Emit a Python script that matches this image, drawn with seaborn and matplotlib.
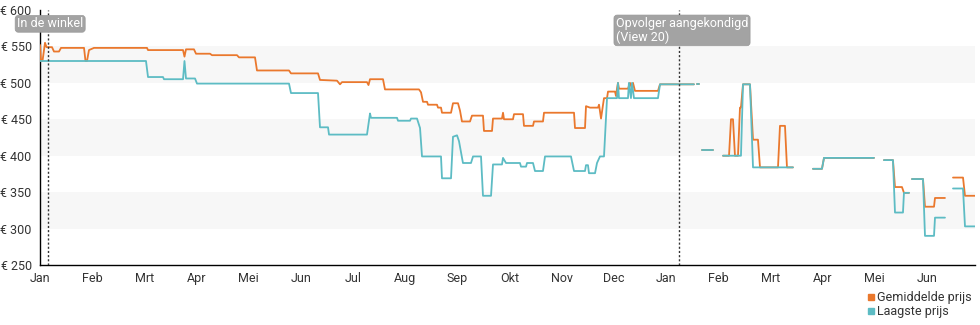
import numpy as np
import pandas as pd
import matplotlib
matplotlib.use("Agg")
import matplotlib.pyplot as plt
from matplotlib.lines import Line2D
import seaborn as sns

N = np.nan
month_labels = ["Jan", "Feb", "Mrt", "Apr", "Mei", "Jun", "Jul", "Aug", "Sep", "Okt", "Nov", "Dec",
                "Jan", "Feb", "Mrt", "Apr", "Mei", "Jun"]
y_ticks = [250, 300, 350, 400, 450, 500, 550, 600]

# x in months since 1 Jan (year 1); NaN = gap
gem_x = [0.000, 0.019, 0.048, 0.096, 0.125, 0.230, 0.268, 0.364, 0.403, 0.844, 0.872, 0.901, 0.939, 1.035,
         2.051, 2.071, 2.742, 2.770, 2.799, 2.952, 2.991, 3.259, 3.298, 3.777, 3.815, 4.122, 4.160, 4.774,
         4.812, 5.330, 5.368, 5.694, 5.752, 5.790, 6.269, 6.298, 6.327, 6.576, 6.614, 7.266, 7.305, 7.343,
         7.420, 7.439, 7.611, 7.631, 7.688, 7.707, 7.880, 7.918, 8.014, 8.052, 8.090, 8.244, 8.282, 8.493,
         8.512, 8.666, 8.685, 8.857, 8.877, 8.896, 9.068, 9.088, 9.260, 9.279, 9.452, 9.471, 9.643, 9.663,
         10.238, 10.257, 10.449, 10.468, 10.545, 10.698, 10.718, 10.756, 10.813, 10.871, 10.890, 11.024,
         11.043, 11.062, 11.081, 11.100, 11.273, 11.311, 11.350, 11.369, 11.407, 11.848, 11.887, 12.538, N,
         12.596, 12.634, N, 12.692, 12.903, N, 13.095, 13.210, 13.248, 13.286, 13.324, 13.382, 13.420, 13.439,
         13.478, 13.612, 13.670, 13.765, 13.804, 14.149, 14.187, 14.283, 14.321, 14.436, N, 14.820, 14.992,
         15.031, 15.989, N, 16.181, 16.353, 16.392, 16.526, 16.564, 16.660, N, 16.718, 16.929, 16.967, 17.140,
         17.159, 17.350, N, 17.504, 17.696, 17.734, 17.926]
gem_y = [552, 530, 530, 555, 549, 549, 543, 543, 548, 548, 530, 530, 545, 548,
         548, 545, 545, 536, 546, 546, 540, 540, 538, 538, 535, 535, 517, 517,
         513, 513, 504, 503, 498, 501, 501, 497, 505, 505, 491, 491, 487, 474,
         474, 470, 470, 466, 466, 459, 459, 472, 472, 462, 447, 447, 455, 455,
         434, 434, 451, 451, 459, 450, 450, 457, 457, 441, 441, 447, 447, 459,
         459, 438, 438, 468, 466, 466, 470, 451, 479, 479, 488, 488,
         482, 492, 500, 492, 492, 500, 492, 500, 489, 489, 498, 498, N,
         498, 498, N, 408, 408, N, 400, 400, 450, 450, 400, 400, 466, 466,
         498, 498, 422, 422, 384, 384, 441, 441, 384, 384, N, 382, 382,
         397, 397, N, 394, 394, 357, 357, 349, 349, N, 368, 368, 330, 330,
         342, 342, N, 370, 370, 345, 345]

laag_x = [0.000, 2.032, 2.071, 2.358, 2.377, 2.742, 2.770, 2.799, 2.972, 3.010, 4.774, 4.812, 5.330, 5.368,
          5.522, 5.541, 6.269, 6.327, 6.346, 6.845, 6.864, 7.094, 7.113, 7.228, 7.286, 7.324, 7.688, 7.707,
          7.880, 7.918, 7.995, 8.033, 8.109, 8.263, 8.302, 8.455, 8.493, 8.647, 8.685, 8.857, 8.877, 8.934,
          9.202, 9.222, 9.318, 9.337, 9.452, 9.490, 9.643, 9.682, 10.180, 10.238, 10.449, 10.468, 10.506,
          10.525, 10.641, 10.679, 10.736, 10.813, 10.871, 11.062, 11.081, 11.100, 11.273, 11.291, 11.330,
          11.350, 11.388, 11.848, 11.887, 12.538, N, 12.596, 12.634, N, 12.692, 12.903, N, 13.095, 13.439,
          13.478, 13.612, 13.670, 14.436, N, 14.820, 14.992, 15.031, 15.989, N, 16.181, 16.353, 16.392,
          16.545, 16.564, 16.660, N, 16.718, 16.929, 16.967, 17.140, 17.159, 17.350, N, 17.504, 17.696,
          17.734, 17.926]
laag_y = [530, 530, 508, 508, 505, 505, 530, 506, 506, 499, 499, 486, 486, 439,
          439, 429, 429, 458, 452, 452, 448, 448, 451, 451, 438, 399, 399, 369,
          369, 426, 428, 420, 390, 390, 399, 399, 345, 345, 388, 388, 397, 390,
          390, 385, 385, 390, 390, 379, 379, 399, 399, 379, 379, 387, 387,
          376, 376, 390, 399, 399, 479, 479, 500, 479, 479, 500, 479,
          500, 479, 479, 498, 498, N, 498, 498, N, 408, 408, N, 400, 400,
          498, 498, 384, 384, N, 382, 382, 397, 397, N, 394, 394, 322,
          322, 349, 349, N, 368, 368, 290, 290, 315, 315, N, 355, 355,
          303, 303]

series_names = ["Gemiddelde prijs", "Laagste prijs"]
colors = {"Gemiddelde prijs": "#ea782d", "Laagste prijs": "#5dbcc4"}


def to_frame(xs, ys, name):
    xs = np.asarray(xs, float)
    ys = np.asarray(ys, float)
    seg = np.cumsum(np.isnan(xs))
    df = pd.DataFrame({"m": xs, "price": ys, "seg": seg, "serie": name})
    df = df.dropna()
    df["unit"] = name + "_" + df["seg"].astype(str)
    return df


df = pd.concat([to_frame(gem_x, gem_y, series_names[0]),
                to_frame(laag_x, laag_y, series_names[1])], ignore_index=True)

sns.set_theme(style="white")
plt.rcParams["font.family"] = ["Roboto", "DejaVu Sans"]

fig = plt.figure(figsize=(9.8, 3.25), dpi=100)
ax = fig.add_axes([40 / 980, 1 - 265 / 325, 935 / 980, 255 / 325])

for lo, hi in [(500, 550), (400, 450), (300, 350)]:
    ax.axhspan(lo, hi, color="#f7f7f7", lw=0, zorder=0)

sns.lineplot(data=df, x="m", y="price", hue="serie", units="unit", estimator=None, sort=False,
             palette=colors, hue_order=series_names, linewidth=1.3, legend=False, ax=ax, zorder=3)

ax.set_xlim(0, 17.926)
ax.set_ylim(250, 600)
ax.set_xticks(range(len(month_labels)))
ax.set_xticklabels(month_labels)
ax.set_yticks(y_ticks)
ax.set_yticklabels([f"€ {v}" for v in y_ticks])
ax.set_xlabel("")
ax.set_ylabel("")
for s in ["top", "right"]:
    ax.spines[s].set_visible(False)
for s in ["left", "bottom"]:
    ax.spines[s].set_color("black")
    ax.spines[s].set_linewidth(1.0)
ax.tick_params(axis="both", which="both", direction="out", length=4, width=1, color="black",
               labelsize=9, labelcolor="#333333", pad=1)
ax.tick_params(axis="y", pad=2)

for xv in [0.15, 12.25]:
    ax.axvline(xv, color="#333333", lw=1, ls=(0, (1.5, 1.5)), zorder=4)

box = dict(boxstyle="round,pad=0.15,rounding_size=0.25", fc="#a3a3a3", ec="#999999", lw=0.5)
ax.text(-0.44, 581, "In de winkel", color="white", fontsize=9, ha="left", va="center",
        bbox=box, clip_on=False, zorder=5)
ax.text(11.04, 572, "Opvolger aangekondigd\n(View 20)", color="white", fontsize=9, ha="left",
        va="center", bbox=box, clip_on=False, zorder=5, linespacing=1.05)

handles = [Line2D([0], [0], marker="s", ls="", color=colors[n], markersize=5) for n in series_names]
fig.legend(handles, series_names, loc="upper right", bbox_to_anchor=(0.997, 0.12), frameon=False,
           fontsize=9, handletextpad=0.1, handlelength=0.8, borderaxespad=0, labelspacing=0.1,
           labelcolor="#333333")

fig.savefig("out.png", dpi=100)
